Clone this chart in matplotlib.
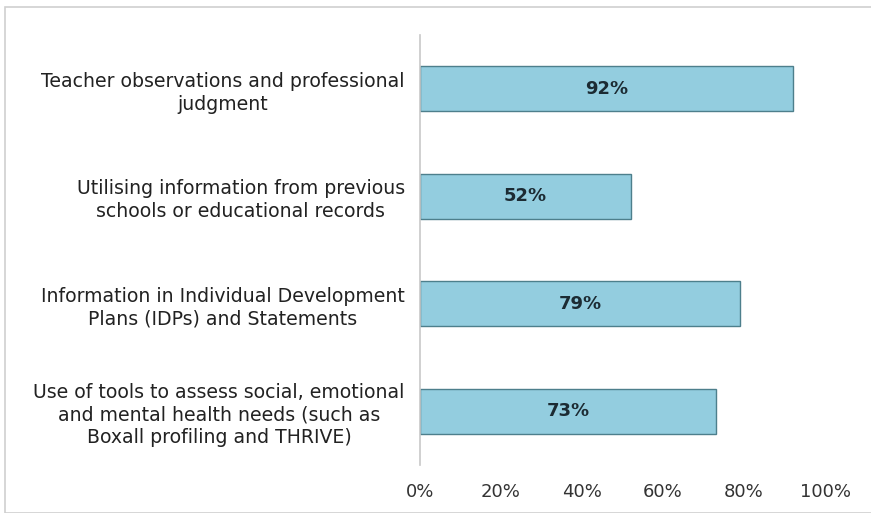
import matplotlib
matplotlib.use("Agg")
import matplotlib.pyplot as plt
from matplotlib.patches import Rectangle

categories = [
    "Teacher observations and professional\njudgment",
    "Utilising information from previous\nschools or educational records",
    "Information in Individual Development\nPlans (IDPs) and Statements",
    "Use of tools to assess social, emotional\nand mental health needs (such as\nBoxall profiling and THRIVE)",
]
values = [92, 52, 79, 73]
xticks = [0, 20, 40, 60, 80, 100]
xtick_labels = ["0%", "20%", "40%", "60%", "80%", "100%"]

plt.rcParams['font.family'] = ['DejaVu Sans']

fig = plt.figure(figsize=(8.71, 5.13), dpi=100)
fig.patches.append(Rectangle((5/871, 0), 1, 1 - 7/513, transform=fig.transFigure,
                             fill=False, edgecolor='#d0d0d0', linewidth=1.2))
ax = fig.add_axes([420/871, 48/513, 405/871, 430/513])

y = list(range(len(categories)))
ax.barh(y, values, height=0.42, color='#93CDDF', edgecolor='#4d7f8c', linewidth=1.0)
for yi, v in zip(y, values):
    ax.text(v / 2, yi, f"{v}%", ha='center', va='center', fontsize=13,
            fontweight='bold', color='#1c2b33')

ax.set_xlim(0, 100)
ax.set_ylim(-0.5, len(categories) - 0.5)
ax.invert_yaxis()
ax.set_yticks(y)
ax.set_yticklabels(categories, fontsize=13.6, color='#222222', linespacing=1.25,
                   multialignment='center')
ax.set_xticks(xticks)
ax.set_xticklabels(xtick_labels, fontsize=13, color='#333333')
ax.tick_params(axis='both', length=0)
ax.tick_params(axis='y', pad=11)
ax.tick_params(axis='x', pad=13)
for s in ['top', 'right', 'bottom']:
    ax.spines[s].set_visible(False)
ax.spines['left'].set_color('#c8c8c8')
ax.spines['left'].set_linewidth(1.2)

fig.savefig("out.png", dpi=100)
